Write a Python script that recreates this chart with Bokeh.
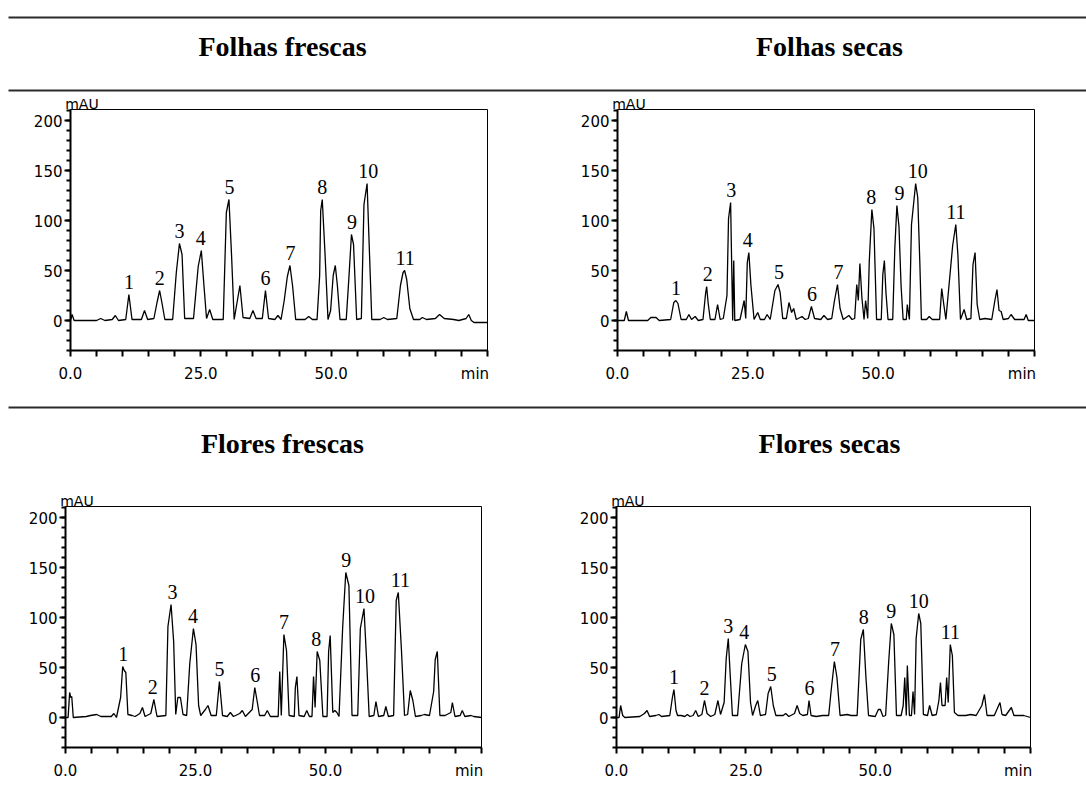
from bokeh.plotting import figure
from bokeh.layouts import column, row
from bokeh.models import Range1d, FixedTicker, LinearAxis, ColumnDataSource
from bokeh.core.properties import value
from bokeh.embed import file_html
from bokeh.resources import INLINE

# ---------------- data ----------------
titles_top = ["Folhas frescas", "Folhas secas"]
titles_bottom = ["Flores frescas", "Flores secas"]
peak_numbers = ["1", "2", "3", "4", "5", "6", "7", "8", "9", "10", "11"]
x_ticks = [0, 25, 50, 77.6]
x_tick_labels = {0: "0.0", 25: "25.0", 50: "50.0", 77.6: "min"}
y_ticks = [0, 50, 100, 150, 200]
y_unit_tick = {2.2: "mAU"}

# chromatogram traces: (time in min, absorbance in mAU)
tl_trace = [(0, 0), (0.3, 6), (0.7, 0), (5.0, 0), (5.8, 2), (6.6, 0), (8.0, 1), (8.6, 5), (9.2, 0),
            (10.6, 1), (11.2, 26), (11.8, 1), (13.6, 1), (14.2, 10), (14.8, 1), (16.0, 2), (16.6, 18),
            (17.1, 30), (17.6, 16), (18.1, 1), (19.6, 1), (20.3, 48), (20.9, 77), (21.4, 66), (21.9, 2),
            (23.6, 2), (24.5, 54), (25.1, 70), (25.6, 35), (26.1, 2), (26.7, 11), (27.3, 1), (29.3, 1),
            (29.9, 108), (30.4, 121), (30.9, 65), (31.4, 1), (32.5, 35), (33.1, 3), (34.4, 2), (35.0, 10),
            (35.6, 2), (36.8, 2), (37.4, 30), (38.0, 2), (39.2, 1), (39.8, 5), (40.4, 1), (41.0, 20),
            (41.6, 44), (42.1, 55), (42.6, 35), (43.2, 1), (45.0, 1), (45.7, 4), (46.4, 1), (47.3, 1),
            (47.8, 45), (48.0, 110), (48.3, 121), (48.8, 70), (49.4, 1), (49.9, 10), (50.4, 45),
            (50.8, 55), (51.2, 35), (51.7, 1), (52.9, 1), (53.4, 42), (53.9, 86), (54.3, 76), (54.9, 1),
            (55.8, 2), (56.3, 116), (56.9, 137), (57.3, 76), (57.8, 1), (59.4, 1), (60.1, 3), (60.8, 1),
            (62.6, 2), (63.3, 35), (63.8, 48), (64.1, 50), (64.5, 41), (65.1, 12), (65.8, 1), (67.0, 1),
            (67.5, 3), (68.3, 1), (70.0, 2), (70.8, 6), (71.7, 2), (73.5, 1), (74.5, 0), (75.9, 2),
            (76.4, 6), (76.9, 0), (77.4, -2), (80.0, -2)]

tr_trace = [(0, 0), (1.3, 0), (1.7, 9), (2.1, 0), (5.8, 0), (6.4, 3), (7.4, 3), (8.0, 0), (10.2, 1),
            (10.8, 18), (11.2, 20), (11.6, 17), (12.2, 1), (13.2, 1), (13.7, 6), (14.2, 1), (14.9, 4),
            (15.5, 0), (16.4, 1), (16.9, 27), (17.1, 34), (17.4, 17), (17.8, 1), (18.7, 1), (19.2, 16),
            (19.7, 1), (20.3, 2), (21.0, 25), (21.3, 102), (21.7, 118), (21.9, 58), (22.1, 0), (22.3, 60),
            (22.5, 0), (23.5, 1), (24.3, 20), (24.6, 2), (24.9, 58), (25.2, 68), (25.6, 35), (26.2, 1),
            (26.9, 8), (27.4, 1), (28.2, 1), (28.7, 6), (29.3, 1), (30.2, 30), (30.8, 36), (31.2, 28),
            (31.7, 2), (32.4, 2), (32.9, 18), (33.4, 8), (33.8, 12), (34.3, 1), (35.4, 4), (36.0, 1),
            (36.6, 2), (37.2, 14), (37.8, 2), (39.0, 1), (39.6, 5), (40.3, 1), (41.1, 2), (41.6, 19),
            (42.2, 36), (42.7, 12), (43.3, 1), (44.4, 5), (45.0, 1), (45.5, 2), (45.9, 36), (46.2, 20),
            (46.5, 57), (46.9, 22), (47.3, 1), (47.6, 20), (48.0, 2), (48.3, 59), (48.8, 111),
            (49.2, 92), (49.7, 1), (50.6, 1), (50.9, 46), (51.2, 60), (51.5, 28), (51.9, 1), (52.8, 1),
            (53.2, 72), (53.6, 115), (54.0, 94), (54.4, 35), (54.8, 1), (55.4, 1), (55.6, 16), (56.0, 1),
            (56.4, 96), (57.2, 137), (57.6, 123), (58.0, 58), (58.3, 1), (59.3, 1), (59.8, 4), (60.4, 1),
            (61.8, 1), (62.2, 32), (62.6, 16), (63.0, 1), (64.3, 75), (64.9, 96), (65.3, 66), (65.8, 1),
            (66.5, 11), (67.0, 1), (67.8, 2), (68.2, 56), (68.6, 68), (69.0, 16), (69.5, 1), (70.5, 2),
            (71.8, 1), (72.4, 20), (72.8, 31), (73.2, 10), (73.6, 9), (74.0, 1), (75.0, 2), (75.5, 6),
            (76.2, 1), (78.0, 1), (78.4, 6), (78.8, 0), (80.0, 0)]

bl_trace = [(0, 0), (0.5, 0), (0.8, 25), (1.0, 20), (1.2, 21), (1.5, 0), (4.0, 1), (4.8, 2), (6.0, 3),
            (6.8, 1), (8.8, 1), (9.3, 4), (9.8, 0), (10.6, 20), (11.0, 51), (11.3, 47), (11.6, 45),
            (12.0, 3), (12.8, 2), (13.4, 1), (14.3, 4), (14.8, 10), (15.3, 1), (16.4, 4), (17.0, 18),
            (17.6, 1), (19.3, 2), (19.7, 91), (20.3, 113), (20.8, 76), (21.2, 3), (21.6, 20), (22.1, 20),
            (22.6, 3), (23.3, 2), (23.9, 54), (24.6, 89), (25.1, 73), (25.6, 12), (26.0, 2), (26.9, 8),
            (27.4, 12), (28.0, 2), (29.0, 2), (29.6, 36), (30.2, 2), (31.1, 1), (31.7, 5), (32.3, 1),
            (33.5, 4), (34.0, 7), (34.6, 1), (35.9, 8), (36.4, 30), (36.9, 15), (37.3, 2), (38.3, 2),
            (38.8, 7), (39.4, 1), (40.9, 1), (41.2, 46), (41.5, 2), (42.0, 83), (42.5, 67), (43.0, 2),
            (44.0, 1), (44.2, 30), (44.5, 41), (44.9, 2), (45.9, 1), (46.4, 7), (46.9, 1), (47.4, 1),
            (47.7, 41), (48.0, 10), (48.4, 66), (48.9, 57), (49.5, 1), (50.3, 1), (50.6, 66), (50.9, 82),
            (51.4, 5), (51.8, 7), (52.2, 5), (52.6, 1), (53.3, 90), (53.9, 145), (54.5, 132), (55.1, 2),
            (56.2, 2), (56.7, 89), (57.4, 109), (57.9, 58), (58.4, 1), (59.3, 2), (59.7, 16), (60.2, 1),
            (61.2, 2), (61.6, 11), (62.1, 1), (63.1, 2), (63.6, 117), (64.0, 125), (64.6, 68), (65.2, 2),
            (65.8, 3), (66.3, 27), (66.8, 17), (67.3, 1), (68.4, 2), (69.0, 3), (70.0, 2), (70.8, 26),
            (71.1, 58), (71.5, 66), (72.0, 2), (73.0, 2), (74.1, 5), (74.4, 15), (74.9, 1), (75.9, 2),
            (76.3, 7), (76.8, 1), (78.0, 2), (78.5, 1), (80.0, 0)]

br_trace = [(0, 0), (0.5, 0), (0.8, 12), (1.2, 2), (1.6, 0), (4.5, 1), (5.4, 4), (5.9, 7), (6.4, 1),
            (7.6, 2), (8.2, 3), (8.7, 1), (10.3, 2), (10.8, 20), (11.1, 28), (11.5, 7), (11.8, 2),
            (12.5, 2), (13.2, 1), (13.7, 3), (14.2, 1), (14.8, 2), (15.3, 7), (15.8, 1), (16.5, 3),
            (17.0, 17), (17.5, 4), (18.2, 1), (19.0, 3), (19.6, 17), (20.1, 3), (20.8, 15), (21.2, 59),
            (21.6, 79), (22.0, 40), (22.4, 2), (23.4, 2), (24.2, 54), (24.9, 73), (25.4, 66), (25.9, 15),
            (26.3, 2), (26.9, 12), (27.3, 17), (27.8, 2), (28.8, 3), (29.3, 24), (29.8, 31), (30.3, 12),
            (30.8, 2), (32.2, 2), (32.7, 4), (33.3, 1), (34.4, 4), (34.9, 12), (35.4, 4), (36.0, 2),
            (36.9, 3), (37.2, 17), (37.6, 2), (38.6, 1), (39.8, 2), (41.0, 2), (41.5, 28), (42.1, 56),
            (42.6, 40), (43.2, 2), (44.6, 3), (45.3, 2), (46.5, 2), (47.2, 78), (47.7, 88), (48.2, 40),
            (48.7, 2), (50.0, 1), (50.6, 8), (51.0, 8), (51.5, 1), (52.0, 2), (52.6, 56), (53.1, 94),
            (53.6, 83), (54.1, 2), (55.0, 2), (55.4, 12), (55.7, 40), (56.0, 2), (56.2, 52), (56.6, 2),
            (57.0, 2), (57.3, 26), (57.6, 3), (57.9, 79), (58.4, 104), (58.8, 94), (59.3, 3), (60.1, 2),
            (60.5, 12), (61.0, 2), (61.8, 3), (62.3, 17), (62.6, 35), (62.9, 12), (63.5, 12), (63.8, 40),
            (64.1, 15), (64.5, 73), (64.9, 62), (65.3, 5), (66.0, 2), (67.5, 2), (68.4, 3), (69.5, 2),
            (70.6, 12), (71.1, 23), (71.6, 2), (73.0, 2), (74.1, 15), (74.5, 3), (75.2, 2), (76.3, 10),
            (76.8, 2), (78.0, 2), (78.7, 2), (80.0, 0)]

# numbered peaks: retention time (min) and apex height (mAU)
tl_peak_time = [11.2, 17.1, 20.9, 25.0, 30.5, 37.4, 42.2, 48.3, 54.0, 57.1, 64.2]
tl_peak_mau = [26, 30, 77, 70, 121, 30, 55, 121, 86, 137, 50]
tr_peak_time = [11.2, 17.3, 21.8, 25.0, 31.0, 37.3, 42.4, 48.7, 54.1, 57.6, 64.9]
tr_peak_mau = [20, 34, 118, 68, 36, 14, 36, 111, 115, 137, 96]
bl_peak_time = [11.1, 16.8, 20.6, 24.5, 29.6, 36.5, 42.0, 48.2, 54.0, 57.6, 64.4]
bl_peak_mau = [51, 18, 113, 89, 36, 30, 83, 66, 145, 109, 125]
br_peak_time = [11.1, 17.0, 21.6, 24.7, 30.0, 37.3, 42.2, 47.8, 53.1, 58.4, 64.5]
br_peak_mau = [28, 17, 79, 73, 31, 17, 56, 88, 94, 104, 73]

# ---------------- drawing ----------------
PAGE_W = 1086
HALF_W = 543
AXIS_FONT = "DejaVu Sans"
SERIF = "Liberation Serif"
LABEL_GAP = 13  # mAU between a peak apex and the centre of its number


def chromatogram(trace, peak_t, peak_h, height, b_left, b_right, b_top, b_bottom):
    t = [pt[0] for pt in trace]
    y = [pt[1] for pt in trace]
    p = figure(width=HALF_W, height=height, x_range=Range1d(0, 80), y_range=Range1d(-30, 211),
               output_backend="svg", toolbar_location=None,
               min_border_left=b_left, min_border_right=b_right,
               min_border_top=b_top, min_border_bottom=b_bottom)
    p.xgrid.visible = False
    p.ygrid.visible = False
    p.outline_line_color = "black"
    p.outline_line_width = 1
    p.background_fill_color = "white"
    p.border_fill_color = "white"

    xa = p.xaxis[0]
    xa.ticker = FixedTicker(ticks=x_ticks, minor_ticks=list(range(0, 81, 5)))
    xa.major_label_overrides = x_tick_labels
    ya = p.yaxis[0]
    ya.ticker = FixedTicker(ticks=y_ticks, minor_ticks=list(range(-30, 211, 10)))
    for ax in (xa, ya):
        ax.axis_line_color = "black"
        ax.axis_line_width = 2
        ax.major_tick_line_color = "black"
        ax.minor_tick_line_color = "black"
        ax.major_tick_line_width = 2
        ax.minor_tick_line_width = 2
        ax.major_tick_in = 0
        ax.minor_tick_in = 0
        ax.major_label_text_font = AXIS_FONT
        ax.major_label_text_font_size = "15px"
        ax.major_label_text_color = "black"
    xa.major_tick_out = 0
    xa.minor_tick_out = 6
    xa.major_label_standoff = 8
    ya.major_tick_out = 6
    ya.minor_tick_out = 4
    ya.major_label_standoff = 2

    # unit label above the y axis
    top_ax = LinearAxis(ticker=FixedTicker(ticks=list(y_unit_tick.keys()), minor_ticks=[]),
                        major_label_overrides=y_unit_tick)
    top_ax.axis_line_color = None
    top_ax.major_tick_line_color = None
    top_ax.minor_tick_line_color = None
    top_ax.major_tick_out = 0
    top_ax.major_tick_in = 0
    top_ax.major_label_standoff = -2
    top_ax.major_label_text_font = AXIS_FONT
    top_ax.major_label_text_font_size = "14px"
    top_ax.major_label_text_color = "black"
    p.add_layout(top_ax, "above")

    p.line(t, y, line_color="black", line_width=1.3)

    src = ColumnDataSource(dict(t=peak_t, h=[h + LABEL_GAP for h in peak_h], n=peak_numbers))
    p.text(x="t", y="h", text="n", source=src, text_align="center",
           text_baseline="middle", text_font=value(SERIF), text_font_size="20px",
           text_color="black")
    return p


def band(height, line_y, title_y, titles):
    f = figure(width=PAGE_W, height=height, x_range=Range1d(0, PAGE_W), y_range=Range1d(height, 0),
               output_backend="svg", toolbar_location=None,
               x_axis_location=None, y_axis_location=None, min_border=0)
    f.xgrid.visible = False
    f.ygrid.visible = False
    f.outline_line_color = None
    f.segment(x0=[8] * len(line_y), x1=[PAGE_W] * len(line_y), y0=line_y, y1=line_y,
              line_color="#2b2b2b", line_width=2)
    f.text(x=[282, 829], y=[title_y, title_y], text=titles, text_align="center",
           text_baseline="middle", text_font=value(SERIF), text_font_style="bold",
           text_font_size="28px", text_color="black")
    return f


header = band(92, [17, 90], 46, titles_top)
p_tl = chromatogram(tl_trace, tl_peak_time, tl_peak_mau, 293, 70, 56, 16, 33)
p_tr = chromatogram(tr_trace, tr_peak_time, tr_peak_mau, 293, 74, 52, 16, 33)
middle = band(104, [22], 58, titles_bottom)
p_bl = chromatogram(bl_trace, bl_peak_time, bl_peak_mau, 293, 65, 62, 16, 34)
p_br = chromatogram(br_trace, br_peak_time, br_peak_mau, 293, 73, 56, 16, 34)

layout = column(header, row(p_tl, p_tr), middle, row(p_bl, p_br))
open("out.html", "w").write(file_html(layout, INLINE))
